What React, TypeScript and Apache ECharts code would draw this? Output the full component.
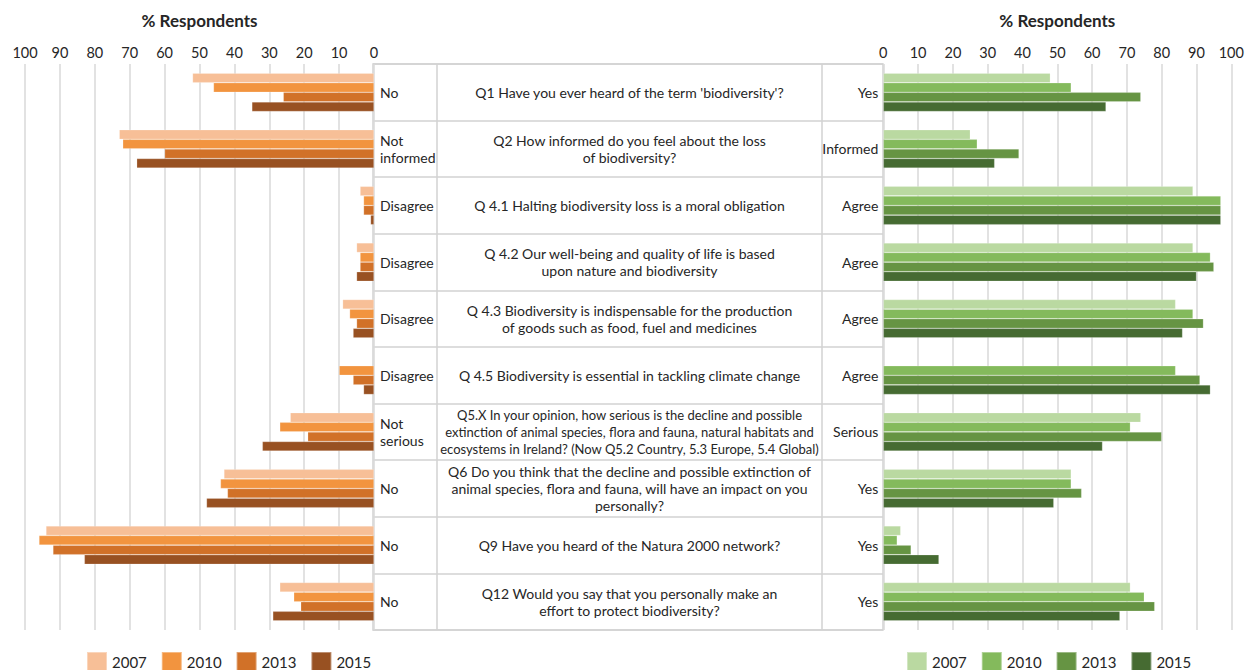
import React, { useEffect, useRef } from "react";
import * as echarts from "echarts";

const questions = [
  "Q1 Have you ever heard of the term 'biodiversity'?",
  "Q2 How informed do you feel about the loss\nof biodiversity?",
  "Q 4.1 Halting biodiversity loss is a moral obligation",
  "Q 4.2 Our well-being and quality of life is based\nupon nature and biodiversity",
  "Q 4.3 Biodiversity is indispensable for the production\nof goods such as food, fuel and medicines",
  "Q 4.5 Biodiversity is essential in tackling climate change",
  "Q5.X In your opinion, how serious is the decline and possible\nextinction of animal species, flora and fauna, natural habitats and\necosystems in Ireland? (Now Q5.2 Country, 5.3 Europe, 5.4 Global)",
  "Q6 Do you think that the decline and possible extinction of\nanimal species, flora and fauna, will have an impact on you\npersonally?",
  "Q9 Have you heard of the Natura 2000 network?",
  "Q12 Would you say that you personally make an\neffort to protect biodiversity?",
];
const negLabels = ["No", "Not\ninformed", "Disagree", "Disagree", "Disagree", "Disagree", "Not\nserious", "No", "No", "No"];
const posLabels = ["Yes", "Informed", "Agree", "Agree", "Agree", "Agree", "Serious", "Yes", "Yes", "Yes"];
const years = ["2007", "2010", "2013", "2015"];

const neg2007 = [52, 73, 4, 5, 9, null, 24, 43, 94, 27];
const neg2010 = [46, 72, 3, 4, 7, 10, 27, 44, 96, 23];
const neg2013 = [26, 60, 3, 4, 5, 6, 19, 42, 92, 21];
const neg2015 = [35, 68, 1, 5, 6, 3, 32, 48, 83, 29];

const pos2007 = [48, 25, 89, 89, 84, null, 74, 54, 5, 71];
const pos2010 = [54, 27, 97, 94, 89, 84, 71, 54, 4, 75];
const pos2013 = [74, 39, 97, 95, 92, 91, 80, 57, 8, 78];
const pos2015 = [64, 32, 97, 90, 86, 94, 63, 49, 16, 68];

const negColors = ["#F7BF97", "#F2943F", "#D17128", "#985122"];
const posColors = ["#BAD9A1", "#84BA5C", "#669443", "#466B32"];

const TOP = 64;
const HEIGHT = 566;
const GRID_LINE = "#d9d9d9";
const TABLE_LINE = "#d2d2d2";
const TEXT = "#262626";

export default function App() {
  const ref = useRef<HTMLDivElement>(null);
  useEffect(() => {
    document.body.style.margin = "0";
    if (!ref.current) return;
    const chart = echarts.init(ref.current, undefined, { renderer: "svg" });
    const negData = [neg2007, neg2010, neg2013, neg2015];
    const posData = [pos2007, pos2010, pos2013, pos2015];
    const series: any[] = [];
    years.forEach((y, i) => {
      series.push({
        name: "L" + y,
        type: "bar",
        xAxisIndex: 0,
        yAxisIndex: 0,
        data: negData[i],
        barWidth: 9.6,
        barGap: "0%",
        itemStyle: { color: negColors[i], borderColor: "rgba(255,255,255,0.35)", borderWidth: 0.6 },
      });
    });
    years.forEach((y, i) => {
      series.push({
        name: "R" + y,
        type: "bar",
        xAxisIndex: 1,
        yAxisIndex: 1,
        data: posData[i],
        barWidth: 9.6,
        barGap: "0%",
        itemStyle: { color: posColors[i], borderColor: "rgba(255,255,255,0.35)", borderWidth: 0.6 },
      });
    });
    const valueAxis = (gridIndex: number, inverse: boolean) => ({
      type: "value",
      gridIndex,
      position: "top",
      inverse,
      min: 0,
      max: 100,
      interval: 10,
      name: "% Respondents",
      nameLocation: "middle",
      nameGap: 35,
      nameTextStyle: { fontSize: 17, fontWeight: "bold", color: TEXT, fontFamily: "Lato" },
      axisLine: { show: false },
      axisTick: { show: false },
      axisLabel: { fontSize: 14.5, color: TEXT, margin: 4, fontFamily: "Lato" },
      splitLine: { show: true, lineStyle: { color: GRID_LINE, width: 1.5 } },
    });
    const legendBase = {
      top: 651,
      padding: 0,
      itemWidth: 20,
      itemHeight: 19,
      itemGap: 14,
      icon: "rect",
      selectedMode: false,
      formatter: (n: string) => n.slice(1),
      textStyle: { fontSize: 15, color: TEXT, fontFamily: "Lato" },
    };
    const option: any = {
      animation: false,
      textStyle: { fontFamily: "Lato" },
      grid: [
        { left: 25, width: 349, top: TOP, height: HEIGHT },
        { left: 883.3, width: 348, top: TOP, height: HEIGHT },
        { left: 373, width: 510, top: TOP, height: HEIGHT, show: true, borderColor: TABLE_LINE, borderWidth: 1.5, backgroundColor: "transparent" },
      ],
      xAxis: [
        valueAxis(0, true),
        valueAxis(1, false),
        { type: "value", gridIndex: 2, show: false, min: 0, max: 1 },
      ],
      yAxis: [
        {
          type: "category",
          gridIndex: 0,
          data: negLabels,
          inverse: true,
          position: "right",
          axisLine: { show: false },
          axisTick: { show: false },
          splitLine: { show: false },
          axisLabel: { interval: 0, fontSize: 14, color: TEXT, margin: 6, align: "left", lineHeight: 17, fontFamily: "Lato" },
        },
        {
          type: "category",
          gridIndex: 1,
          data: posLabels,
          inverse: true,
          position: "left",
          axisLine: { show: false },
          axisTick: { show: false },
          splitLine: { show: false },
          axisLabel: { interval: 0, fontSize: 14, color: TEXT, margin: 5, align: "right", lineHeight: 17, fontFamily: "Lato" },
        },
        {
          type: "category",
          gridIndex: 2,
          data: questions,
          inverse: true,
          position: "left",
          axisLine: { show: false },
          axisTick: { show: false },
          splitLine: { show: true, interval: 0, lineStyle: { color: TABLE_LINE, width: 1.5 } },
          axisLabel: {
            interval: 0,
            fontSize: 14,
            color: TEXT,
            margin: -256.5,
            align: "center",
            lineHeight: 17,
            fontFamily: "Lato",
            formatter: (v: string) => (v.startsWith("Q5.X") ? `{s|${v}}` : v),
            rich: { s: { fontSize: 13, lineHeight: 17, color: TEXT, fontFamily: "Lato" } },
          },
        },
      ],
      legend: [
        { ...legendBase, data: years.map((y) => "L" + y), left: 86 },
        { ...legendBase, data: years.map((y) => "R" + y), left: 906 },
      ],
      graphic: [
        { type: "line", shape: { x1: 437, y1: TOP, x2: 437, y2: TOP + HEIGHT }, style: { stroke: TABLE_LINE, lineWidth: 1.5 }, silent: true },
        { type: "line", shape: { x1: 822, y1: TOP, x2: 822, y2: TOP + HEIGHT }, style: { stroke: TABLE_LINE, lineWidth: 1.5 }, silent: true },
      ],
      series,
    };
    chart.setOption(option);
    return () => chart.dispose();
  }, []);
  return <div ref={ref} style={{ width: 1251, height: 670 }} />;
}
